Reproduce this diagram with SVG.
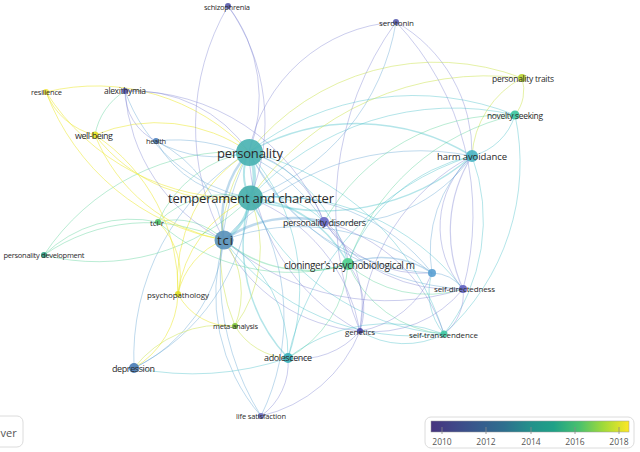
<svg xmlns="http://www.w3.org/2000/svg" width="640" height="452" viewBox="0 0 640 452">
<style>
text{font-family:"Open Sans","Noto Sans","DejaVu Sans",sans-serif;fill:#2a2a2a;text-anchor:middle;dominant-baseline:central}
#connectors path{fill:none;stroke-width:1;stroke-opacity:.4}
.p{stroke:#7d82d2}.b{stroke:#5ea3d2}.t{stroke:#44bfc8}.g{stroke:#52d094}.y{stroke:#cfe55c;stroke-opacity:.55!important}.yy{stroke:#efeb48;stroke-opacity:.6!important}
.n{fill-opacity:.92}
.leg text{fill:#555;font-size:8.5px}
</style>
<defs>
<linearGradient id="vir" x1="0" x2="1" y1="0" y2="0">
<stop offset="0" stop-color="#46337e"/><stop offset=".12" stop-color="#3f4788"/><stop offset=".25" stop-color="#365c8d"/><stop offset=".37" stop-color="#2e6f8e"/><stop offset=".5" stop-color="#23908b"/><stop offset=".62" stop-color="#1fa187"/><stop offset=".75" stop-color="#4ac16d"/><stop offset=".87" stop-color="#a0da39"/><stop offset="1" stop-color="#fde725"/>
</linearGradient>
</defs>
<rect width="640" height="452" fill="#fff"/>
<g id="connectors">
<path class="t" style="stroke-width:3.5" d="M249 152 A60 60 0 0 1 250 198"/>
<path class="t" style="stroke-width:2" d="M249 152 A50 50 0 0 0 250 198"/>
<path class="t" style="stroke-width:3" d="M250 198 A55 55 0 0 1 224 240"/>
<path class="b" style="stroke-width:2.5" d="M249 152 A100 100 0 0 0 224 240"/>
<path class="b" style="stroke-width:2.5" d="M224 240 A120 120 0 0 1 324 222"/>
<path class="g" style="stroke-width:1.5" d="M224 240 A130 130 0 0 0 348 264"/>
<path class="p" d="M228 6 A150 150 0 0 1 249 152"/>
<path class="p" d="M249 152 A160 160 0 0 1 396 22"/>
<path class="y" d="M249 152 A240 240 0 0 1 522 78"/>
<path class="t" d="M249 152 A270 270 0 0 1 515 115"/>
<path class="t" style="stroke-width:1.5" d="M249 152 A220 220 0 0 1 472 156"/>
<path class="yy" d="M46 92 A210 210 0 0 1 249 152"/>
<path class="p" d="M125 91 A140 140 0 0 1 249 152"/>
<path class="yy" d="M95 135 A160 160 0 0 1 249 152"/>
<path class="b" d="M156 141 A120 120 0 0 0 249 152"/>
<path class="g" d="M158 222 A120 120 0 0 1 249 152"/>
<path class="p" d="M249 152 A110 110 0 0 1 324 222"/>
<path class="t" d="M249 152 A150 150 0 0 1 348 264"/>
<path class="b" d="M249 152 A260 260 0 0 0 463 289"/>
<path class="t" d="M249 152 A270 270 0 0 1 444 334"/>
<path class="p" d="M249 152 A210 210 0 0 0 360 331"/>
<path class="t" d="M249 152 A210 210 0 0 1 288 358"/>
<path class="b" d="M249 152 A240 240 0 0 0 134 368"/>
<path class="yy" d="M249 152 A150 150 0 0 0 178 294"/>
<path class="g" d="M44 255 A230 230 0 0 1 249 152"/>
<path class="y" d="M249 152 A190 190 0 0 0 235 326"/>
<path class="b" d="M249 152 A215 215 0 0 0 432 273"/>
<path class="b" d="M249 152 A270 270 0 0 0 261 416"/>
<path class="t" style="stroke-width:1.5" d="M250 198 A225 225 0 0 0 472 156"/>
<path class="t" d="M250 198 A275 275 0 0 1 515 115"/>
<path class="y" d="M250 198 A290 290 0 0 1 522 78"/>
<path class="yy" d="M46 92 A230 230 0 0 0 250 198"/>
<path class="yy" d="M95 135 A165 165 0 0 0 250 198"/>
<path class="b" d="M125 91 A165 165 0 0 0 250 198"/>
<path class="b" d="M156 141 A110 110 0 0 0 250 198"/>
<path class="g" d="M158 222 A95 95 0 0 1 250 198"/>
<path class="t" d="M250 198 A80 80 0 0 1 324 222"/>
<path class="t" style="stroke-width:1.5" d="M250 198 A120 120 0 0 1 348 264"/>
<path class="b" d="M250 198 A200 200 0 0 1 432 273"/>
<path class="t" d="M250 198 A235 235 0 0 1 463 289"/>
<path class="t" d="M250 198 A235 235 0 0 0 444 334"/>
<path class="p" d="M250 198 A175 175 0 0 1 360 331"/>
<path class="t" style="stroke-width:1.5" d="M250 198 A165 165 0 0 0 288 358"/>
<path class="b" d="M250 198 A210 210 0 0 1 134 368"/>
<path class="yy" d="M250 198 A120 120 0 0 0 178 294"/>
<path class="g" d="M44 255 A215 215 0 0 0 250 198"/>
<path class="y" d="M250 198 A130 130 0 0 1 235 326"/>
<path class="b" d="M250 198 A225 225 0 0 1 261 416"/>
<path class="p" d="M224 240 A240 240 0 0 1 228 6"/>
<path class="b" d="M250 198 A225 225 0 0 0 396 22"/>
<path class="p" d="M250 198 A200 200 0 0 0 228 6"/>
<path class="b" d="M224 240 A260 260 0 0 1 472 156"/>
<path class="p" d="M224 240 A250 250 0 0 0 463 289"/>
<path class="b" d="M224 240 A215 215 0 0 1 432 273"/>
<path class="p" d="M224 240 A165 165 0 0 0 360 331"/>
<path class="t" d="M224 240 A235 235 0 0 0 444 334"/>
<path class="t" d="M224 240 A135 135 0 0 1 288 358"/>
<path class="b" d="M224 240 A160 160 0 0 1 134 368"/>
<path class="yy" d="M224 240 A75 75 0 0 0 178 294"/>
<path class="y" d="M224 240 A90 90 0 0 1 235 326"/>
<path class="g" d="M224 240 A70 70 0 0 0 158 222"/>
<path class="g" d="M44 255 A180 180 0 0 1 224 240"/>
<path class="b" d="M156 141 A120 120 0 0 1 224 240"/>
<path class="p" d="M125 91 A180 180 0 0 0 224 240"/>
<path class="yy" d="M95 135 A170 170 0 0 0 224 240"/>
<path class="yy" d="M46 92 A235 235 0 0 0 224 240"/>
<path class="b" d="M224 240 A185 185 0 0 0 261 416"/>
<path class="p" style="stroke-width:1.2" d="M472 156 A140 140 0 0 0 463 289"/>
<path class="p" d="M472 156 A95 95 0 0 0 463 289"/>
<path class="t" d="M472 156 A170 170 0 0 0 348 264"/>
<path class="t" d="M472 156 A185 185 0 0 1 444 334"/>
<path class="t" d="M472 156 A60 60 0 0 0 515 115"/>
<path class="y" d="M472 156 A95 95 0 0 1 522 78"/>
<path class="b" d="M472 156 A130 130 0 0 0 432 273"/>
<path class="p" d="M472 156 A210 210 0 0 0 360 331"/>
<path class="b" d="M472 156 A160 160 0 0 1 324 222"/>
<path class="t" d="M472 156 A270 270 0 0 0 288 358"/>
<path class="g" d="M515 115 A230 230 0 0 0 348 264"/>
<path class="t" d="M515 115 A230 230 0 0 1 444 334"/>
<path class="y" d="M515 115 A40 40 0 0 0 522 78"/>
<path class="p" d="M324 222 A155 155 0 0 0 463 289"/>
<path class="p" d="M324 222 A115 115 0 0 1 360 331"/>
<path class="p" d="M324 222 A50 50 0 0 1 348 264"/>
<path class="p" d="M324 222 A120 120 0 0 0 432 273"/>
<path class="p" d="M324 222 A170 170 0 0 1 444 334"/>
<path class="b" style="stroke-width:1.5" d="M348 264 A90 90 0 0 1 432 273"/>
<path class="g" d="M348 264 A120 120 0 0 0 463 289"/>
<path class="g" d="M348 264 A115 115 0 0 0 444 334"/>
<path class="p" d="M348 264 A70 70 0 0 1 360 331"/>
<path class="g" d="M348 264 A115 115 0 0 1 288 358"/>
<path class="b" d="M432 273 A40 40 0 0 1 463 289"/>
<path class="p" d="M463 289 A50 50 0 0 1 444 334"/>
<path class="p" d="M463 289 A115 115 0 0 1 360 331"/>
<path class="p" d="M360 331 A80 80 0 0 1 288 358"/>
<path class="t" d="M444 334 A160 160 0 0 0 288 358"/>
<path class="p" d="M288 358 A65 65 0 0 1 261 416"/>
<path class="t" d="M134 368 A300 300 0 0 0 288 358"/>
<path class="y" d="M288 358 A65 65 0 0 1 235 326"/>
<path class="p" d="M125 91 A55 55 0 0 0 156 141"/>
<path class="g" d="M95 135 A65 65 0 0 1 125 91"/>
<path class="yy" d="M95 135 A185 185 0 0 1 178 294"/>
<path class="yy" d="M46 92 A70 70 0 0 0 95 135"/>
<path class="g" d="M44 255 A125 125 0 0 1 158 222"/>
<path class="p" d="M396 22 A280 280 0 0 1 463 289"/>
<path class="p" d="M396 22 A320 320 0 0 0 360 331"/>
<path class="p" d="M396 22 A150 150 0 0 1 472 156"/>
<path class="yy" d="M178 294 A60 60 0 0 0 235 326"/>
<path class="yy" d="M178 294 A90 90 0 0 1 134 368"/>
<path class="y" d="M235 326 A110 110 0 0 0 134 368"/>
<path class="yy" d="M158 222 A75 75 0 0 1 178 294"/>
<path class="g" d="M324 222 A210 210 0 0 1 515 115"/>
<path class="t" d="M360 331 A85 85 0 0 0 444 334"/>
<path class="t" d="M432 273 A65 65 0 0 0 444 334"/>
<path class="p" d="M432 273 A95 95 0 0 1 360 331"/>
<path class="p" d="M261 416 A140 140 0 0 0 360 331"/>
<path class="g" d="M158 222 A200 200 0 0 0 348 264"/>
<path class="p" d="M125 91 A210 210 0 0 1 324 222"/>
<path class="b" d="M156 141 A175 175 0 0 1 324 222"/>
</g>
<g id="node-schizophrenia"><circle class="n" cx="228" cy="6" r="3" fill="#5a5cae"/><text x="227" y="7" font-size="7.5" textLength="46">schizophrenia</text></g>
<g id="node-serotonin"><circle class="n" cx="396" cy="22" r="3" fill="#5b5eb0"/><text x="396.5" y="22" font-size="8" textLength="35">serotonin</text></g>
<g id="node-resilience"><circle class="n" cx="46" cy="92" r="3" fill="#f2e640"/><text x="46.5" y="92" font-size="7.5" textLength="31">resilience</text></g>
<g id="node-alexithymia"><circle class="n" cx="125" cy="91" r="3" fill="#5b5cb5"/><text x="125" y="90.5" font-size="8.5" textLength="42">alexithymia</text></g>
<g id="node-personality-traits"><circle class="n" cx="522" cy="78" r="4" fill="#b9d235"/><text x="523" y="78" font-size="8.5" textLength="62">personality traits</text></g>
<g id="node-novelty-seeking"><circle class="n" cx="515" cy="115" r="4.5" fill="#3fc6a0"/><text x="515" y="115" font-size="8.5" textLength="56">novelty seeking</text></g>
<g id="node-well-being"><circle class="n" cx="95" cy="135" r="3.5" fill="#e5e020"/><text x="94" y="135" font-size="9" textLength="38">well-being</text></g>
<g id="node-health"><circle class="n" cx="156" cy="141" r="3" fill="#4d80bd"/><text x="156" y="141" font-size="7.5" textLength="20">health</text></g>
<g id="node-personality"><circle class="n" cx="249.5" cy="152.5" r="13.5" fill="#4bb3b3"/><text x="250" y="153" font-size="13" textLength="66">personality</text></g>
<g id="node-harm-avoidance"><circle class="n" cx="472" cy="156" r="6" fill="#4cb4c4"/><text x="472" y="156.5" font-size="9.5" textLength="70">harm avoidance</text></g>
<g id="node-temperament-and-character"><circle class="n" cx="250.5" cy="198" r="12.5" fill="#48afac"/><text x="251" y="198" font-size="13" textLength="166">temperament and character</text></g>
<g id="node-tci-r"><circle class="n" cx="158" cy="222" r="3" fill="#54c26a"/><text x="157" y="222" font-size="8" textLength="14">tci-r</text></g>
<g id="node-personality-disorders"><circle class="n" cx="324" cy="222" r="5" fill="#6b6cc8"/><text x="324.5" y="222" font-size="9" textLength="83">personality disorders</text></g>
<g id="node-tci"><circle class="n" cx="224" cy="240" r="9.5" fill="#5b92bb"/><text x="225" y="240" font-size="13" textLength="16">tci</text></g>
<g id="node-personality-development"><circle class="n" cx="44" cy="255" r="3" fill="#2f9f84"/><text x="44" y="255" font-size="7.5" textLength="81">personality development</text></g>
<g id="node-cloninger"><circle class="n" cx="348" cy="264" r="6" fill="#4fd08e"/><text x="349.5" y="265" font-size="10" textLength="131">cloninger's psychobiological m</text></g>
<g id="node-unlabeled"><circle class="n" cx="432" cy="273" r="4" fill="#5ba1d2"/></g>
<g id="node-self-directedness"><circle class="n" cx="463" cy="289" r="4" fill="#6364c2"/><text x="464.5" y="288.5" font-size="8" textLength="61">self-directedness</text></g>
<g id="node-psychopathology"><circle class="n" cx="178" cy="294" r="3" fill="#e2e025"/><text x="178" y="294" font-size="8" textLength="62">psychopathology</text></g>
<g id="node-meta-analysis"><circle class="n" cx="235" cy="326" r="3" fill="#7fc43a"/><text x="235.5" y="326" font-size="7.5" textLength="45">meta-analysis</text></g>
<g id="node-genetics"><circle class="n" cx="360" cy="331" r="3" fill="#4b4aa5"/><text x="360" y="331" font-size="8" textLength="30">genetics</text></g>
<g id="node-self-transcendence"><circle class="n" cx="444" cy="334" r="3.5" fill="#40c8a2"/><text x="443.5" y="334" font-size="8" textLength="69">self-transcendence</text></g>
<g id="node-adolescence"><circle class="n" cx="288" cy="358" r="5" fill="#3ab0b8"/><text x="288" y="357.5" font-size="9" textLength="48">adolescence</text></g>
<g id="node-depression"><circle class="n" cx="134" cy="368" r="5" fill="#4a7db5"/><text x="133.5" y="368" font-size="9" textLength="43">depression</text></g>
<g id="node-life-satisfaction"><circle class="n" cx="261" cy="416" r="3" fill="#6a6bbd"/><text x="261" y="416" font-size="7.5" textLength="50">life satisfaction</text></g>
<g id="ver-box"><rect x="-20" y="416" width="43" height="31" rx="6" fill="#fff" stroke="#dcdcdc"/><text x="0.5" y="432" font-size="11" style="fill:#555;text-anchor:start">ver</text></g>
<g id="legend" class="leg">
<rect x="425" y="417" width="209" height="31" rx="6" fill="#fff" stroke="#dcdcdc"/>
<rect x="431" y="421" width="198" height="11" fill="url(#vir)" stroke="#999" stroke-width=".5"/>
<g stroke="#888" stroke-width=".8"><path d="M442 427V434M486 427V434M531 427V434M575 427V434M619 427V434"/></g>
<text x="442" y="441">2010</text><text x="486" y="441">2012</text><text x="531" y="441">2014</text><text x="575" y="441">2016</text><text x="619" y="441">2018</text>
</g>
</svg>
